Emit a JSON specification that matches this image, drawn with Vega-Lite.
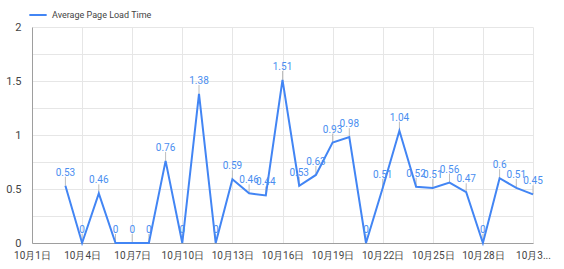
{
  "$schema": "https://vega.github.io/schema/vega-lite/v6.json",
  "autosize": "none",
  "width": 501,
  "height": 216,
  "padding": {"left": 32, "top": 27, "right": 31, "bottom": 26},
  "background": "white",
  "config": {
    "font": "Roboto",
    "view": {"stroke": null}
  },
  "data": {
    "values": [
      {"date": "2023-10-03", "value": 0.53},
      {"date": "2023-10-04", "value": 0},
      {"date": "2023-10-05", "value": 0.46},
      {"date": "2023-10-06", "value": 0},
      {"date": "2023-10-07", "value": 0},
      {"date": "2023-10-08", "value": 0},
      {"date": "2023-10-09", "value": 0.76},
      {"date": "2023-10-10", "value": 0},
      {"date": "2023-10-11", "value": 1.38},
      {"date": "2023-10-12", "value": 0},
      {"date": "2023-10-13", "value": 0.59},
      {"date": "2023-10-14", "value": 0.46},
      {"date": "2023-10-15", "value": 0.44},
      {"date": "2023-10-16", "value": 1.51},
      {"date": "2023-10-17", "value": 0.53},
      {"date": "2023-10-18", "value": 0.63},
      {"date": "2023-10-19", "value": 0.93},
      {"date": "2023-10-20", "value": 0.98},
      {"date": "2023-10-21", "value": 0},
      {"date": "2023-10-22", "value": 0.51},
      {"date": "2023-10-23", "value": 1.04},
      {"date": "2023-10-24", "value": 0.52},
      {"date": "2023-10-25", "value": 0.51},
      {"date": "2023-10-26", "value": 0.56},
      {"date": "2023-10-27", "value": 0.47},
      {"date": "2023-10-28", "value": 0},
      {"date": "2023-10-29", "value": 0.6},
      {"date": "2023-10-30", "value": 0.51},
      {"date": "2023-10-31", "value": 0.45}
    ]
  },
  "encoding": {
    "x": {
      "field": "date",
      "type": "temporal",
      "scale": {"type": "utc", "domain": [{"year": 2023, "month": 10, "date": 1, "utc": true}, {"year": 2023, "month": 10, "date": 31, "utc": true}]},
      "axis": {
        "title": null,
        "values": [
          {"year": 2023, "month": 10, "date": 1, "utc": true},
          {"year": 2023, "month": 10, "date": 4, "utc": true},
          {"year": 2023, "month": 10, "date": 7, "utc": true},
          {"year": 2023, "month": 10, "date": 10, "utc": true},
          {"year": 2023, "month": 10, "date": 13, "utc": true},
          {"year": 2023, "month": 10, "date": 16, "utc": true},
          {"year": 2023, "month": 10, "date": 19, "utc": true},
          {"year": 2023, "month": 10, "date": 22, "utc": true},
          {"year": 2023, "month": 10, "date": 25, "utc": true},
          {"year": 2023, "month": 10, "date": 28, "utc": true},
          {"year": 2023, "month": 10, "date": 31, "utc": true}
        ],
        "format": "%-m月%-d日",
        "labelExpr": "utcdate(datum.value) == 31 ? '10月3...' : datum.label",
        "labelFontSize": 10,
        "labelColor": "#444444",
        "labelPadding": 7,
        "labelOverlap": false,
        "labelFlush": false,
        "labelBound": false,
        "ticks": false,
        "domainColor": "#9e9e9e",
        "gridColor": "#e6e6e6",
        "grid": true
      }
    },
    "y": {
      "field": "value",
      "type": "quantitative",
      "scale": {"domain": [0, 2], "nice": false},
      "axis": {
        "title": null,
        "values": [0, 0.25, 0.5, 0.75, 1, 1.25, 1.5, 1.75, 2],
        "labelExpr": "(datum.value * 2) % 1 == 0 ? format(datum.value, '~g') : ''",
        "labelFontSize": 11,
        "labelColor": "#444444",
        "labelPadding": 11,
        "ticks": false,
        "domainColor": "#9e9e9e",
        "gridColor": "#e6e6e6"
      }
    }
  },
  "layer": [
    {
      "mark": {"type": "rule", "color": "#bdbdbd", "strokeWidth": 1, "y2Offset": -9},
      "encoding": {"y2": {"field": "value"}}
    },
    {
      "mark": {"type": "line", "strokeWidth": 2},
      "encoding": {
        "color": {
          "datum": "Average Page Load Time",
          "scale": {"range": ["#4285f4"]},
          "legend": {
            "title": null,
            "orient": "none",
            "legendX": -4,
            "legendY": -22,
            "symbolType": "stroke",
            "symbolSize": 300,
            "symbolStrokeWidth": 2,
            "labelFontSize": 9,
            "labelColor": "#444444"
          }
        }
      }
    },
    {
      "mark": {"type": "text", "dy": -13, "fontSize": 10, "color": "#4a8ef0", "baseline": "middle"},
      "encoding": {"text": {"field": "value"}}
    }
  ]
}
